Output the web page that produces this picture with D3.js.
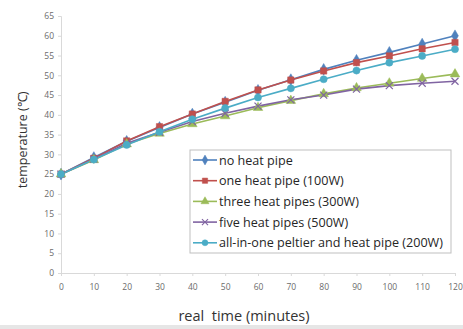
<!DOCTYPE html>
<html>
<head>
<meta charset="utf-8">
<script src="https://cdn.jsdelivr.net/npm/d3@7"></script>
<style>
  body { margin: 0; background: #fff; }
  text { font-family: "Open Sans", "Liberation Sans", sans-serif; }
</style>
</head>
<body>
<div id="chart-area"></div>
<script>
// minutes
let times = [0, 10, 20, 30, 40, 50, 60, 70, 80, 90, 100, 110, 120];
let seriesNames = [
  "no heat pipe",
  "one heat pipe (100W)",
  "three heat pipes (300W)",
  "five heat pipes (500W)",
  "all-in-one peltier and heat pipe (200W)"
];
let noPipe   = [25, 29.2, 33.3, 36.8, 40.2, 43.2, 46.2, 48.9, 51.5, 53.8, 55.8, 57.9, 60.0];
let onePipe  = [25, 29.0, 33.4, 37.0, 40.2, 43.4, 46.3, 48.8, 51.1, 53.2, 54.9, 56.7, 58.3];
let threePipe = [25, 28.6, 32.6, 35.3, 37.7, 39.7, 41.8, 43.6, 45.3, 46.8, 48.0, 49.2, 50.3];
let fivePipe = [25, 28.8, 32.8, 35.6, 38.3, 40.4, 42.2, 43.8, 45.0, 46.5, 47.4, 48.0, 48.5];
let allInOne = [25, 28.7, 32.4, 35.7, 38.9, 41.7, 44.4, 46.7, 49.0, 51.2, 53.2, 54.9, 56.6];
let yTicks = d3.range(0, 70, 5);
let xTicks = d3.range(0, 130, 10);

let colors = ["#4F81BD", "#C0504D", "#9BBB59", "#8064A2", "#4BACC6"];
let symbols = [d3.symbolDiamond, d3.symbolSquare, d3.symbolTriangle, d3.symbolX, d3.symbolCircle];
let allSeries = [noPipe, onePipe, threePipe, fivePipe, allInOne];

let margin = {top: 16, right: 8, bottom: 56, left: 61},
  width = 455 - margin.left,
  height = 273 - margin.top;

let svg = d3.select("#chart-area")
  .append("svg")
  .attr("width", 463)
  .attr("height", 329);

// faint frame at the bottom like the screenshot
svg.append("rect")
  .attr("x", 0).attr("y", 325).attr("width", 463).attr("height", 4)
  .attr("fill", "#e6e6e6");

let g = svg.append("g")
  .attr("transform", "translate(" + margin.left + "," + margin.top + ")");

let x = d3.scaleLinear().domain([0, 120]).range([0, width]);
let y = d3.scaleLinear().domain([0, 65]).range([height, 0]);

let xAxis = d3.axisBottom(x).tickValues(xTicks).tickSize(3).tickPadding(8);
let yAxis = d3.axisLeft(y).tickValues(yTicks).tickSize(3).tickPadding(4);

let xAxisGroup = g.append("g")
  .attr("transform", "translate(0," + height + ")")
  .call(xAxis);
let yAxisGroup = g.append("g").call(yAxis);

[xAxisGroup, yAxisGroup].forEach(function(ax) {
  ax.selectAll("path, line").attr("stroke", "#d9d9d9");
  ax.selectAll("text")
    .attr("fill", "#6b6b6b")
    .style("font-size", "8.5px");
});

let line = d3.line()
  .x(function(d, i) { return x(times[i]); })
  .y(function(d) { return y(d); });

allSeries.forEach(function(s, k) {
  g.append("path")
    .datum(s)
    .attr("fill", "none")
    .attr("stroke", colors[k])
    .attr("stroke-width", 1.6)
    .attr("d", line);
});

allSeries.forEach(function(s, k) {
  let sym = d3.symbol().type(symbols[k]).size(k === 3 ? 34 : 40);
  g.selectAll(".m" + k)
    .data(s)
    .enter()
    .append("path")
    .attr("class", "m" + k)
    .attr("transform", function(d, i) { return "translate(" + x(times[i]) + "," + y(d) + ")"; })
    .attr("d", sym)
    .attr("fill", k === 3 ? "none" : colors[k])
    .attr("stroke", colors[k])
    .attr("stroke-width", k === 3 ? 1.2 : 0.5);
});

// legend
let legend = svg.append("g").attr("transform", "translate(190,150)");
legend.append("rect")
  .attr("width", 261).attr("height", 103)
  .attr("fill", "#fff")
  .attr("stroke", "#bfbfbf");

seriesNames.forEach(function(name, k) {
  let row = legend.append("g").attr("transform", "translate(0," + (10 + k * 20.7) + ")");
  row.append("line")
    .attr("x1", 3).attr("x2", 27)
    .attr("stroke", colors[k]).attr("stroke-width", 1.6);
  row.append("path")
    .attr("transform", "translate(15,0)")
    .attr("d", d3.symbol().type(symbols[k]).size(k === 3 ? 26 : 28))
    .attr("fill", k === 3 ? "none" : colors[k])
    .attr("stroke", colors[k])
    .attr("stroke-width", k === 3 ? 1.1 : 0.5);
  row.append("text")
    .attr("x", 29).attr("y", 4.5)
    .attr("fill", "#262626")
    .style("font-size", "12.6px")
    .text(name);
});

// axis titles
svg.append("text")
  .attr("transform", "translate(27,140) rotate(-90)")
  .style("text-anchor", "middle")
  .style("font-size", "12.5px")
  .attr("fill", "#333")
  .text("temperature (℃)");

svg.append("text")
  .attr("x", 244)
  .attr("y", 321)
  .style("text-anchor", "middle")
  .style("font-size", "14.5px")
  .attr("fill", "#333")
  .attr("xml:space", "preserve")
  .style("white-space", "pre")
  .text("real  time (minutes)");
</script>
</body>
</html>
